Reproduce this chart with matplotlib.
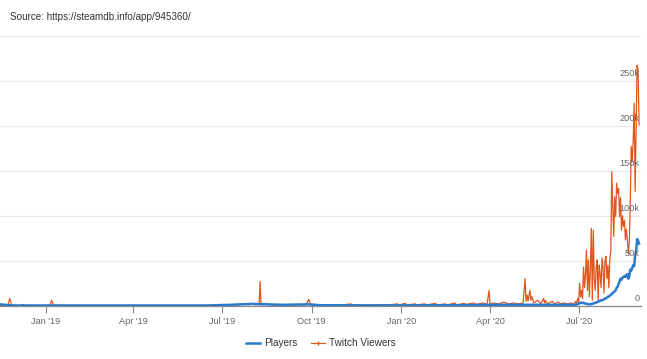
import matplotlib
matplotlib.use("Agg")
import matplotlib.pyplot as plt
import matplotlib.dates as mdates
from matplotlib.lines import Line2D
import pandas as pd

plt.rcParams['font.family'] = ['Liberation Sans', 'DejaVu Sans']

# ---------------- data (values in thousands) ----------------
twitch_sparse_dates = [
    '2018-11-15', '2018-11-23', '2018-11-25', '2018-11-27', '2018-12-07', '2018-12-09', '2018-12-11',
    '2019-01-05', '2019-01-07', '2019-01-09', '2019-02-15', '2019-04-01', '2019-06-01', '2019-07-01',
    '2019-07-15', '2019-07-25', '2019-07-28', '2019-08-01', '2019-08-04', '2019-08-07', '2019-08-08',
    '2019-08-09', '2019-08-10', '2019-08-15', '2019-08-20', '2019-09-01', '2019-09-25', '2019-09-28',
    '2019-09-30', '2019-10-15', '2019-11-01', '2019-11-10', '2019-11-12', '2019-12-01', '2019-12-20',
    '2019-12-28', '2019-12-30', '2020-01-05', '2020-01-07', '2020-01-15', '2020-01-17', '2020-01-25',
    '2020-01-27', '2020-02-05', '2020-02-07', '2020-02-15', '2020-02-17', '2020-02-25', '2020-02-27',
    '2020-03-05', '2020-03-08', '2020-03-15', '2020-03-18', '2020-03-25', '2020-03-29', '2020-03-31',
    '2020-04-01', '2020-04-05', '2020-04-10', '2020-04-15', '2020-04-20', '2020-04-25', '2020-04-30',
    '2020-05-05', '2020-05-07', '2020-05-08', '2020-05-09', '2020-05-10', '2020-05-12', '2020-05-13',
    '2020-05-14', '2020-05-16', '2020-05-20', '2020-05-23', '2020-05-26', '2020-05-27', '2020-05-28',
    '2020-05-30', '2020-06-04', '2020-06-06', '2020-06-10', '2020-06-12', '2020-06-15', '2020-06-20',
    '2020-06-23', '2020-06-25',
]
twitch_sparse_values = [
    0.3, 0.3, 8, 0.3, 0.3, 1.5, 0.3,
    0.3, 6, 0.5, 0.3, 0.3, 0.3, 0.5,
    0.8, 2, 1, 2.5, 1, 1.5, 1,
    27, 1, 2, 1, 0.5, 1, 7,
    1, 0.5, 0.8, 2, 0.8, 0.8, 1,
    2, 1, 2.5, 1, 2, 1, 2,
    1, 2.5, 1, 2, 1, 3, 1,
    2.5, 1.5, 3, 1.5, 3, 1.5, 17,
    2, 3, 2, 4, 2, 3, 2,
    3, 30, 5, 12, 5, 17, 6,
    10, 3, 6, 2, 8, 3, 6,
    2, 5, 2, 4, 2, 3, 2,
    3, 2,
]

daily_start = '2020-06-27'
twitch_daily_values = [
    3, 5, 2, 8, 4,
    25, 10, 17, 8, 43, 20, 35, 62, 17, 51,
    10, 40, 86, 6, 84, 30, 17, 43, 51, 6,
    45, 36, 20, 53, 43, 14, 50, 55, 30, 45,
    20, 52, 60, 149, 110, 77, 121, 99, 136, 125,
    130, 99, 120, 84, 100, 88, 95, 73, 85, 73,
    58, 70, 117, 177, 160, 184, 225, 127, 199, 267, 262, 201,
]

players_sparse_dates = [
    '2018-11-15', '2018-11-20', '2018-11-25', '2018-12-01', '2019-06-15', '2019-07-10',
    '2019-07-20', '2019-08-01', '2019-08-15', '2019-09-01', '2019-09-28', '2019-10-10',
    '2019-12-01', '2020-03-01', '2020-04-01', '2020-05-01', '2020-06-01', '2020-06-20',
]
players_sparse_values = [1.5, 1, 0.5, 0.2, 0.2, 1, 1.5, 2, 1.5, 1, 1.5, 0.5, 0.3, 0.5, 1, 1, 1, 1]

players_daily_values = [
    1, 1, 1.5, 1.5, 2,
    3, 3, 3.5, 3, 3, 2.5, 2.5, 2, 2, 1.5,
    1.5, 1.5, 2, 2, 2.5, 3, 3, 3.5, 4, 4.5,
    5, 5.5, 6, 6, 6.5, 7, 8, 8, 9, 10,
    10, 11, 12, 13, 14, 15, 16, 17, 20, 21,
    24, 27, 30, 29, 31, 32, 33, 32, 34, 35,
    30, 33, 40, 39, 42, 45, 44, 56, 60, 74, 72, 69,
]

tick_dates = ['2019-01-01', '2019-04-01', '2019-07-01', '2019-10-01',
              '2020-01-01', '2020-04-01', '2020-07-01']
tick_labels = ["Jan '19", "Apr '19", "Jul '19", "Oct '19", "Jan '20", "Apr '20", "Jul '20"]
y_ticks = [0, 50, 100, 150, 200, 250, 300]
y_labels = ['0', '50k', '100k', '150k', '200k', '250k', '']
series_names = ['Players', 'Twitch Viewers']
source_text = 'Source: https://steamdb.info/app/945360/'

# ---------------- build series ----------------
daily_dates = pd.date_range(daily_start, periods=len(twitch_daily_values), freq='D')
tw_dates = list(pd.to_datetime(twitch_sparse_dates)) + list(daily_dates)
tw_vals = [v * 1000 for v in twitch_sparse_values + twitch_daily_values]
pl_dates = list(pd.to_datetime(players_sparse_dates)) + list(daily_dates)
pl_vals = [v * 1000 for v in players_sparse_values + players_daily_values]

blue = '#2b7bcc'
orange = '#e0561f'

W, H = 647, 359
fig = plt.figure(figsize=(W / 100, H / 100), dpi=100)
ax = fig.add_axes([0, 1 - 305.7 / H, 641 / W, (305.7 - 35.7) / H])

ax.plot(tw_dates, tw_vals, color=orange, lw=0.9, zorder=3)
ax.plot(pl_dates, pl_vals, color=blue, lw=1.8, zorder=4)

ax.set_xlim(pd.Timestamp('2018-11-15'), pd.Timestamp('2020-09-03'))
ax.set_ylim(0, 300000)

ax.set_xticks(pd.to_datetime(tick_dates))
ax.set_xticklabels(tick_labels)
ax.tick_params(axis='x', direction='out', length=5, width=0.8, color='#8a8a8a',
               labelsize=6.6, labelcolor='#666666', pad=3)

ax.set_yticks([v * 1000 for v in y_ticks])
ax.set_yticklabels([])
ax.tick_params(axis='y', length=0)
ax.grid(axis='y', color='#e9e9e9', lw=0.8, zorder=0)
ax.set_axisbelow(True)

for v, lab in zip(y_ticks, y_labels):
    if lab:
        ax.annotate(lab, xy=(1.0, v * 1000), xycoords=('axes fraction', 'data'),
                    xytext=(-1, 2), textcoords='offset points', ha='right', va='bottom',
                    fontsize=6.6, color='#666666', zorder=5)

for s in ['top', 'left', 'right']:
    ax.spines[s].set_visible(False)
ax.spines['bottom'].set_color('#8a8a8a')
ax.spines['bottom'].set_linewidth(0.9)

fig.text(10 / W, 1 - 17 / H, source_text, ha='left', va='center', fontsize=7.1, color='#333333')

handles = [Line2D([0], [0], color=blue, lw=1.8),
           Line2D([0], [0], color=orange, lw=0.9, marker='|', markersize=3)]
fig.legend(handles, series_names, loc='center', bbox_to_anchor=(321 / W, 1 - 343 / H),
           ncol=2, frameon=False, fontsize=7.2, handlelength=1.4, handletextpad=0.4,
           columnspacing=1.4, labelcolor='#333333')

fig.savefig('out.png', dpi=100)
